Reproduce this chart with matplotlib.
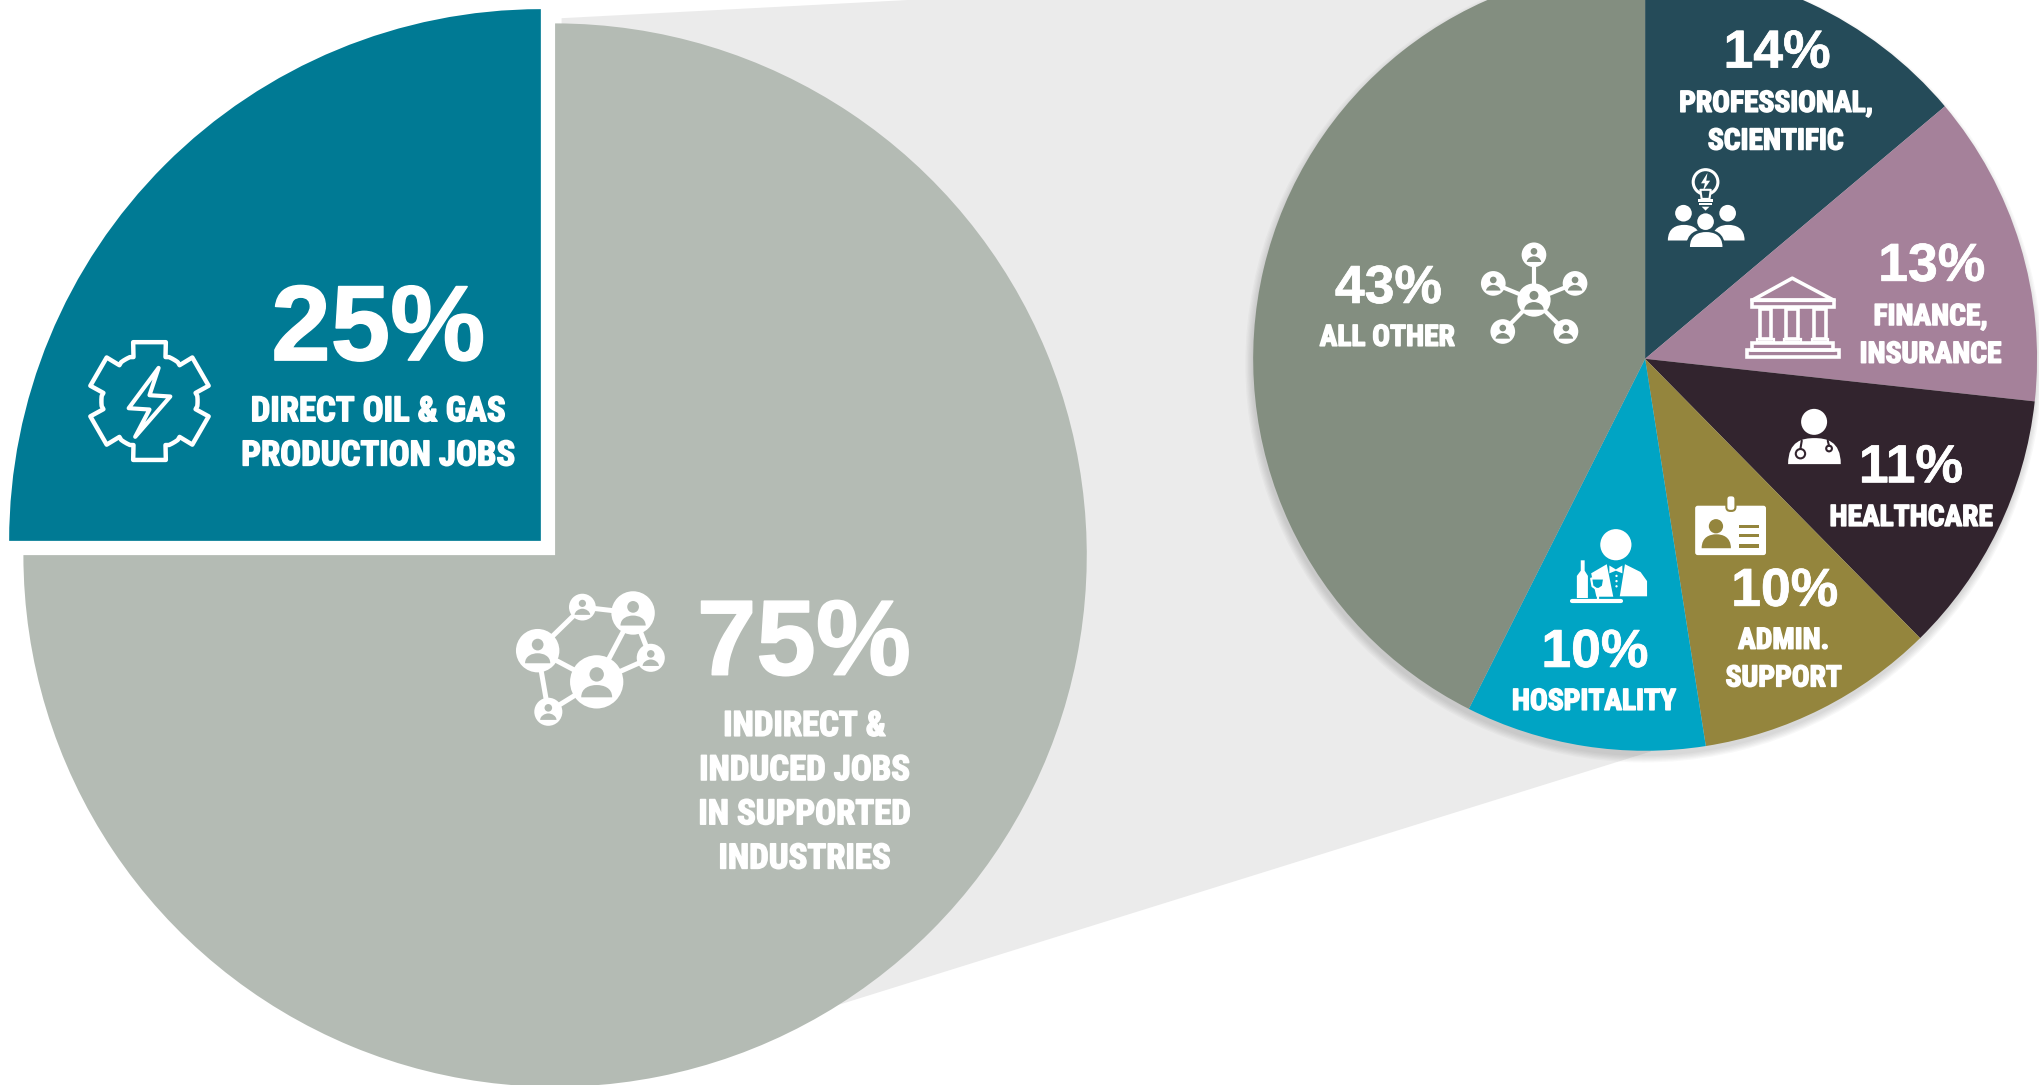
import matplotlib
matplotlib.use("Agg")
import matplotlib.pyplot as plt
import matplotlib.patheffects as pe
import numpy as np
from matplotlib import font_manager as fm
from matplotlib.patches import Circle, Polygon, Rectangle, PathPatch, FancyBboxPatch
from matplotlib.path import Path

# data
main_shares = [25, 75]
main_pct = ["25%", "75%"]
main_names = ["DIRECT OIL & GAS\nPRODUCTION JOBS", "INDIRECT &\nINDUCED JOBS\nIN SUPPORTED\nINDUSTRIES"]
sector_shares = [14, 13, 11, 10, 10, 43]
sector_pct = ["14%", "13%", "11%", "10%", "10%", "43%"]
sector_names = ["PROFESSIONAL,\nSCIENTIFIC", "FINANCE,\nINSURANCE", "HEALTHCARE",
                "ADMIN.\nSUPPORT", "HOSPITALITY", "ALL OTHER"]

# colours
main_colors = ["#007A94", "#B4BBB4"]
sector_colors = ["#254B59", "#A5819A", "#32242E", "#94853D", "#00A4C4", "#838E80"]
BAND = "#EBEBEB"
W = "white"

# axes units are the 1568 wide view of the picture, y flipped by Y()
H = 834.6
fig = plt.figure(figsize=(20.39, 10.85), dpi=100)
ax = fig.add_axes([0, 0, 1, 1])
ax.set_axis_off()


def Y(y):
    return H - y


def pick_font():
    for name in ["Liberation Sans Narrow", "Roboto Condensed", "Roboto"]:
        try:
            fm.findfont(fm.FontProperties(family=name, weight="bold"), fallback_to_default=False)
            return name
        except ValueError:
            pass
    return "Liberation Sans"


NARROW = pick_font()


def circle(x, y, r, color=W, **kw):
    ax.add_patch(Circle((x, Y(y)), r, fc=color, ec="none", **kw))


def poly(points, fc=W, ec="none", lw=0, **kw):
    pts = [(x, Y(y)) for x, y in points]
    ax.add_patch(Polygon(pts, closed=True, fc=fc, ec=ec, lw=lw, joinstyle="round", **kw))


def line(points, color=W, lw=3):
    xs, ys = zip(*points)
    ax.plot(xs, [Y(v) for v in ys], color=color, lw=lw, solid_capstyle="round", zorder=5)


def rect(x0, y0, x1, y1, fc=W, ec="none", lw=0):
    ax.add_patch(Rectangle((x0, Y(y1)), x1 - x0, y1 - y0, fc=fc, ec=ec, lw=lw, zorder=5))


def shoulders(x0, x1, y0, y1, color=W):
    # rounded top, flat bottom
    k = (x1 - x0) * 0.28
    verts = [(x0, y1), (x0, y0 + 2), (x0 + k, y0), ((x0 + x1) / 2, y0),
             (x1 - k, y0), (x1, y0 + 2), (x1, y1), (x0, y1)]
    codes = [Path.MOVETO, Path.CURVE4, Path.CURVE4, Path.CURVE4,
             Path.CURVE4, Path.CURVE4, Path.CURVE4, Path.CLOSEPOLY]
    ax.add_patch(PathPatch(Path([(a, Y(b)) for a, b in verts], codes), fc=color, ec="none", zorder=6))


def node(x, y, r, bg):
    # white disc with a small person cut out of it
    ax.add_patch(Circle((x, Y(y)), r, fc=W, ec="none", zorder=5))
    ax.add_patch(Circle((x, Y(y + r * -0.28)), r * 0.27, fc=bg, ec="none", zorder=6))
    shoulders(x - r * 0.58, x + r * 0.58, y + r * 0.12, y + r * 0.58, bg)


def network(nodes, edges, bg, lw):
    for a, b in edges:
        line([nodes[a][:2], nodes[b][:2]], lw=lw)
    for x, y, r in nodes:
        node(x, y, r, bg)


def gear_icon():
    cx, cy = 115, 308.5
    rin, rout = 36, 47
    d1, d2 = np.radians(20), np.radians(15.5)
    pts = []
    for k in range(6):
        a = np.radians(90 - 60 * k)
        pts.append((cx + rin * np.cos(a + d1), cy - rin * np.sin(a + d1)))
        pts.append((cx + rout * np.cos(a + d2), cy - rout * np.sin(a + d2)))
        pts.append((cx + rout * np.cos(a - d2), cy - rout * np.sin(a - d2)))
        pts.append((cx + rin * np.cos(a - d1), cy - rin * np.sin(a - d1)))
        for t in np.linspace(a - d1, a - np.radians(60) + d1, 6)[1:-1]:
            pts.append((cx + (rin + 1) * np.cos(t), cy - (rin + 1) * np.sin(t)))
    poly(pts, fc="none", ec=W, lw=3.2, zorder=5)
    poly([(122, 283), (99, 314), (115, 315), (104, 336), (131, 305), (115, 304)],
         fc="none", ec=W, lw=3, zorder=5)


def bulb_icon():
    bg = sector_colors[0]
    ax.add_patch(Circle((1312, Y(140)), 9.5, fc="none", ec=W, lw=2.2, zorder=5))
    poly([(1308, 146), (1316, 146), (1315, 153), (1309, 153)], fc=bg, ec=W, lw=1.5, zorder=5)
    poly([(1313.5, 133), (1308.5, 141), (1311.5, 141), (1310, 147), (1315.5, 139), (1312.5, 139)], zorder=6)
    rect(1306, 153, 1318, 155)
    rect(1307, 156.5, 1317, 158)
    poly([(1309, 159), (1315, 159), (1312, 162)], zorder=5)
    circle(1295, 164, 6.4, zorder=5)
    circle(1329, 164, 6.4, zorder=5)
    shoulders(1283, 1308, 173, 185)
    shoulders(1317, 1342, 173, 185)
    ax.add_patch(Circle((1312, Y(170.5)), 8, fc=bg, ec="none", zorder=6))
    ax.add_patch(Circle((1312, Y(170.5)), 6.4, fc=W, ec="none", zorder=7))
    shoulders(1297, 1327, 176.5, 191, bg)
    shoulders(1300, 1325, 178.5, 190)
    ax.patches[-1].set_zorder(7)


def bank_icon():
    lw = 2.6
    poly([(1378.7, 214), (1347.8, 231), (1410.7, 231)], fc="none", ec=W, lw=lw, zorder=5)
    rect(1347.5, 231, 1411, 236, fc="none", ec=W, lw=lw)
    for x in [1358, 1378.6, 1400]:
        rect(x - 4.5, 238, x + 4.5, 261, fc="none", ec=W, lw=lw)
        rect(x - 6.5, 261, x + 6.5, 263, fc="none", ec=W, lw=1.6)
    rect(1348, 263.5, 1410, 269, fc="none", ec=W, lw=lw)
    rect(1344, 269.5, 1414.5, 274.5, fc="none", ec=W, lw=lw)


def doctor_icon():
    bg = sector_colors[2]
    circle(1395.5, 324.5, 10, zorder=5)
    shoulders(1375.5, 1416, 337, 357)
    line([(1386, 339), (1385, 345)], color=bg, lw=1.5)
    ax.lines[-1].set_zorder(7)
    ax.add_patch(Circle((1385, Y(349)), 3.6, fc="none", ec=bg, lw=1.5, zorder=7))
    line([(1406, 339), (1407, 343)], color=bg, lw=1.5)
    ax.lines[-1].set_zorder(7)
    ax.add_patch(Circle((1407, Y(345)), 2.2, fc="none", ec=bg, lw=1.5, zorder=7))


def badge_icon():
    bg = sector_colors[3]
    ax.add_patch(FancyBboxPatch((1304, Y(427)), 54.5, 38, boxstyle="round,pad=0,rounding_size=2",
                                fc=W, ec="none", zorder=5))
    ax.add_patch(FancyBboxPatch((1328, Y(393)), 7, 12, boxstyle="round,pad=0,rounding_size=3",
                                fc=W, ec=bg, lw=1.5, zorder=6))
    circle(1320, 404.8, 5.5, color=bg, zorder=6)
    shoulders(1309, 1331.5, 411, 421.7, bg)
    for y in [404.7, 412, 420]:
        rect(1337.5, y - 1.2, 1353, y + 1.2, fc=bg)
        ax.patches[-1].set_zorder(6)


def waiter_icon():
    bg = sector_colors[4]
    circle(1243, 419, 12, zorder=5)
    poly([(1224, 441), (1236, 434), (1241, 459), (1228, 459)], zorder=5)
    poly([(1250, 434), (1262, 440), (1267, 447), (1267, 458.7), (1246, 458.7)], zorder=5)
    poly([(1238, 435), (1243, 438), (1248, 435), (1248, 441), (1243, 439), (1238, 441)], zorder=5)
    for y in [443, 447, 451]:
        circle(1243.5, y, 0.9, zorder=5)
    # bottle
    poly([(1216, 431), (1219, 431), (1219, 439), (1221.5, 443), (1221.5, 460), (1213, 460), (1213, 443), (1216, 439)], zorder=5)
    # glass and tray
    poly([(1224, 445), (1234, 445), (1233, 451), (1230, 453), (1228, 453), (1225, 451)], fc=bg, ec=W, lw=1.5, zorder=6)
    line([(1229, 453), (1229, 461)], lw=1.6)
    line([(1209, 462.5), (1247, 462.5)], lw=3)


# grey band joining the two pies
poly([(432, 14), (1270, -30), (1270, 578), (600, 787), (432, 400)], fc=BAND)

# big pie, blue slice pulled out of the corner (explode is in axes units here)
ax.pie(main_shares, colors=main_colors, startangle=90, center=(427, Y(427)), radius=409,
       explode=[15.5, 0], frame=False, wedgeprops=dict(lw=0))

# soft shadow under the right pie
for i in range(6):
    ax.add_patch(Circle((1264.5, Y(280)), 301.5 + 5 - i, fc="#555555", ec="none", alpha=0.04, zorder=1.5))

wedges, _ = ax.pie(sector_shares, colors=sector_colors, startangle=90, counterclock=False,
                   center=(1265.5, Y(276)), radius=301.5, frame=False, wedgeprops=dict(lw=0))
for w in wedges:
    w.set_zorder(2)

ax.set_xlim(0, 1568.5)
ax.set_ylim(0, H)
ax.set_aspect("auto")

# labels, baselines in picture units
main_pct_pos = [(291, 277), (618.5, 519)]
main_name_pos = [(291, [324, 358]), (619, [566, 600, 634, 668])]
sector_pct_pos = [(1367, 52), (1486, 216), (1470, 371), (1373, 466), (1227, 513), (1068, 233)]
sector_name_pos = [(1366, [86, 115]), (1485, [250, 279]), (1470, [404.5]), (1372, [499, 528]),
                   (1226, [546]), (1067, [266])]


def pct(s, x, y, size):
    ax.text(x, Y(y), s, color=W, fontsize=size, fontweight="bold", family="Liberation Sans",
            ha="center", va="baseline", zorder=8,
            path_effects=[pe.withStroke(linewidth=size * 0.014, foreground=W)])


def name(s, x, ys, size):
    for part, y in zip(s.split("\n"), ys):
        ax.text(x, Y(y), part, color=W, fontsize=size, fontweight="bold", family=NARROW,
                ha="center", va="baseline", zorder=8,
                path_effects=[pe.withStroke(linewidth=1.1, foreground=W)])


for s, (x, y) in zip(main_pct, main_pct_pos):
    pct(s, x, y, 77)
for s, (x, ys) in zip(main_names, main_name_pos):
    name(s, x, ys, 25)
for s, (x, y) in zip(sector_pct, sector_pct_pos):
    pct(s, x, y, 38.5)
for s, (x, ys) in zip(sector_names, sector_name_pos):
    name(s, x, ys, 21.2)

# icons
gear_icon()
network([(413.6, 500.5, 16.7), (448, 467, 10.3), (487, 471.5, 16.7),
         (500.6, 506, 10.8), (459, 524.5, 20.5), (421.8, 547.5, 10.8)],
        [(0, 1), (1, 2), (2, 4), (2, 3), (3, 4), (4, 0), (0, 5), (5, 4)], main_colors[1], 3.6)
network([(1180, 230.8, 12.8), (1180, 196, 9.5), (1148.7, 218, 9.5),
         (1211.6, 218, 9.5), (1156, 255, 9.5), (1204.6, 255, 9.5)],
        [(0, 1), (0, 2), (0, 3), (0, 4), (0, 5)], sector_colors[5], 3)
bulb_icon()
bank_icon()
doctor_icon()
badge_icon()
waiter_icon()

fig.savefig("out.png", dpi=100, facecolor="white")
